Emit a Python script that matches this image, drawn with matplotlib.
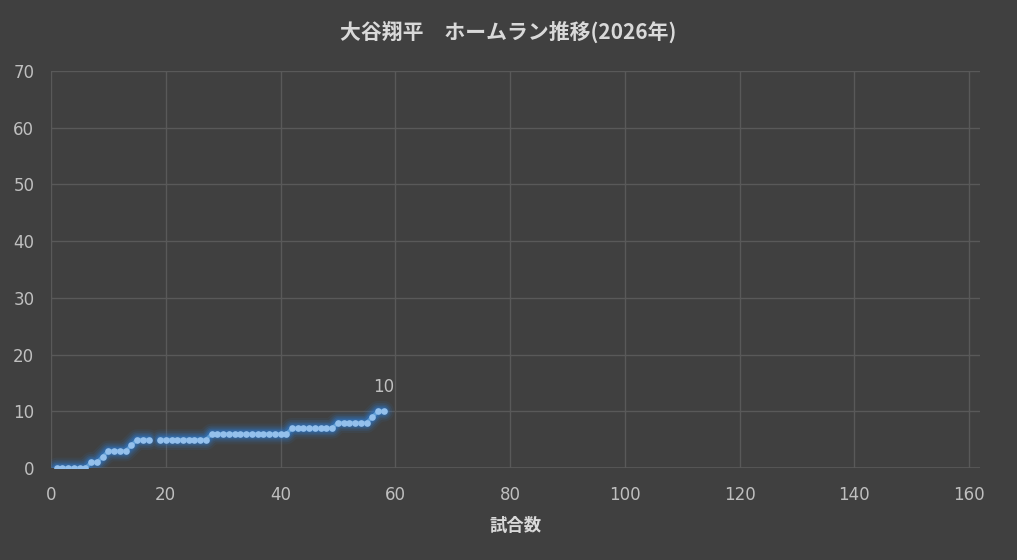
import numpy as np
import matplotlib
matplotlib.use("Agg")
import matplotlib.pyplot as plt

plt.rcParams['font.family'] = ['DejaVu Sans', 'Noto Sans CJK JP']

title = "大谷翔平　ホームラン推移(2026年)"
xlabel = "試合数"
games = list(range(1, 59))
# cumulative home runs per game (game 18: no value)
homeruns = [0, 0, 0, 0, 0, 0, 1, 1, 2, 3,
            3, 3, 3, 4, 5, 5, 5, None, 5, 5,
            5, 5, 5, 5, 5, 5, 5, 6, 6, 6,
            6, 6, 6, 6, 6, 6, 6, 6, 6, 6,
            6, 7, 7, 7, 7, 7, 7, 7, 7, 8,
            8, 8, 8, 8, 8, 9, 10, 10]
xticks = [0, 20, 40, 60, 80, 100, 120, 140, 160]
yticks = [0, 10, 20, 30, 40, 50, 60, 70]

bg = "#404040"
grid_c = "#595959"
text_c = "#bfbfbf"
title_c = "#d9d9d9"

x = np.array(games, dtype=float)
y = np.array([np.nan if v is None else v for v in homeruns], dtype=float)

fig = plt.figure(figsize=(10.17, 5.6), dpi=100, facecolor=bg)
ax = fig.add_axes([51/1017, 1-468/560, (980-51)/1017, (468-71)/560], facecolor=bg)

# glow
for lw, a in [(15, 0.08), (12, 0.12), (9.5, 0.16), (7.5, 0.22), (5.5, 0.32)]:
    ax.plot(x, y, color="#2f80dc", lw=lw, alpha=a, solid_capstyle='round',
            solid_joinstyle='round', zorder=2)
ax.plot(x, y, color="#5b9bd5", lw=2.6, zorder=3)
ax.plot(x, y, 'o', color="#94c0ec", ms=4.8, mew=0, zorder=4)

last = len(y) - 1
ax.annotate(f"{int(y[last])}", (x[last], y[last]), xytext=(0, 17.5), textcoords='offset points',
            ha='center', va='center', color=text_c, fontsize=12)

ax.set_xlim(0, 161.9)
ax.set_ylim(0, 70)
ax.set_xticks(xticks, [str(v) for v in xticks])
ax.set_yticks(yticks, [str(v) for v in yticks])
ax.grid(True, color=grid_c, lw=1)
ax.set_axisbelow(True)
for s in ax.spines.values():
    s.set_visible(False)
ax.axhline(0, color=grid_c, lw=1.2, zorder=1)
ax.axvline(0, color=grid_c, lw=1.2, zorder=1)
ax.tick_params(colors=text_c, labelsize=12, length=0)
ax.tick_params(axis='x', pad=13)
ax.tick_params(axis='y', pad=12)

cjk = ['Noto Sans CJK JP', 'DejaVu Sans']
fig.text(508/1017, 1-32/560, title, ha='center', va='center', color=title_c,
         fontsize=15, fontweight='bold', family=cjk)
fig.text(516/1017, 1-526/560, xlabel, ha='center', va='center', color=title_c,
         fontsize=12.5, fontweight='bold', family=cjk)

fig.savefig("out.png", dpi=100, facecolor=bg)
